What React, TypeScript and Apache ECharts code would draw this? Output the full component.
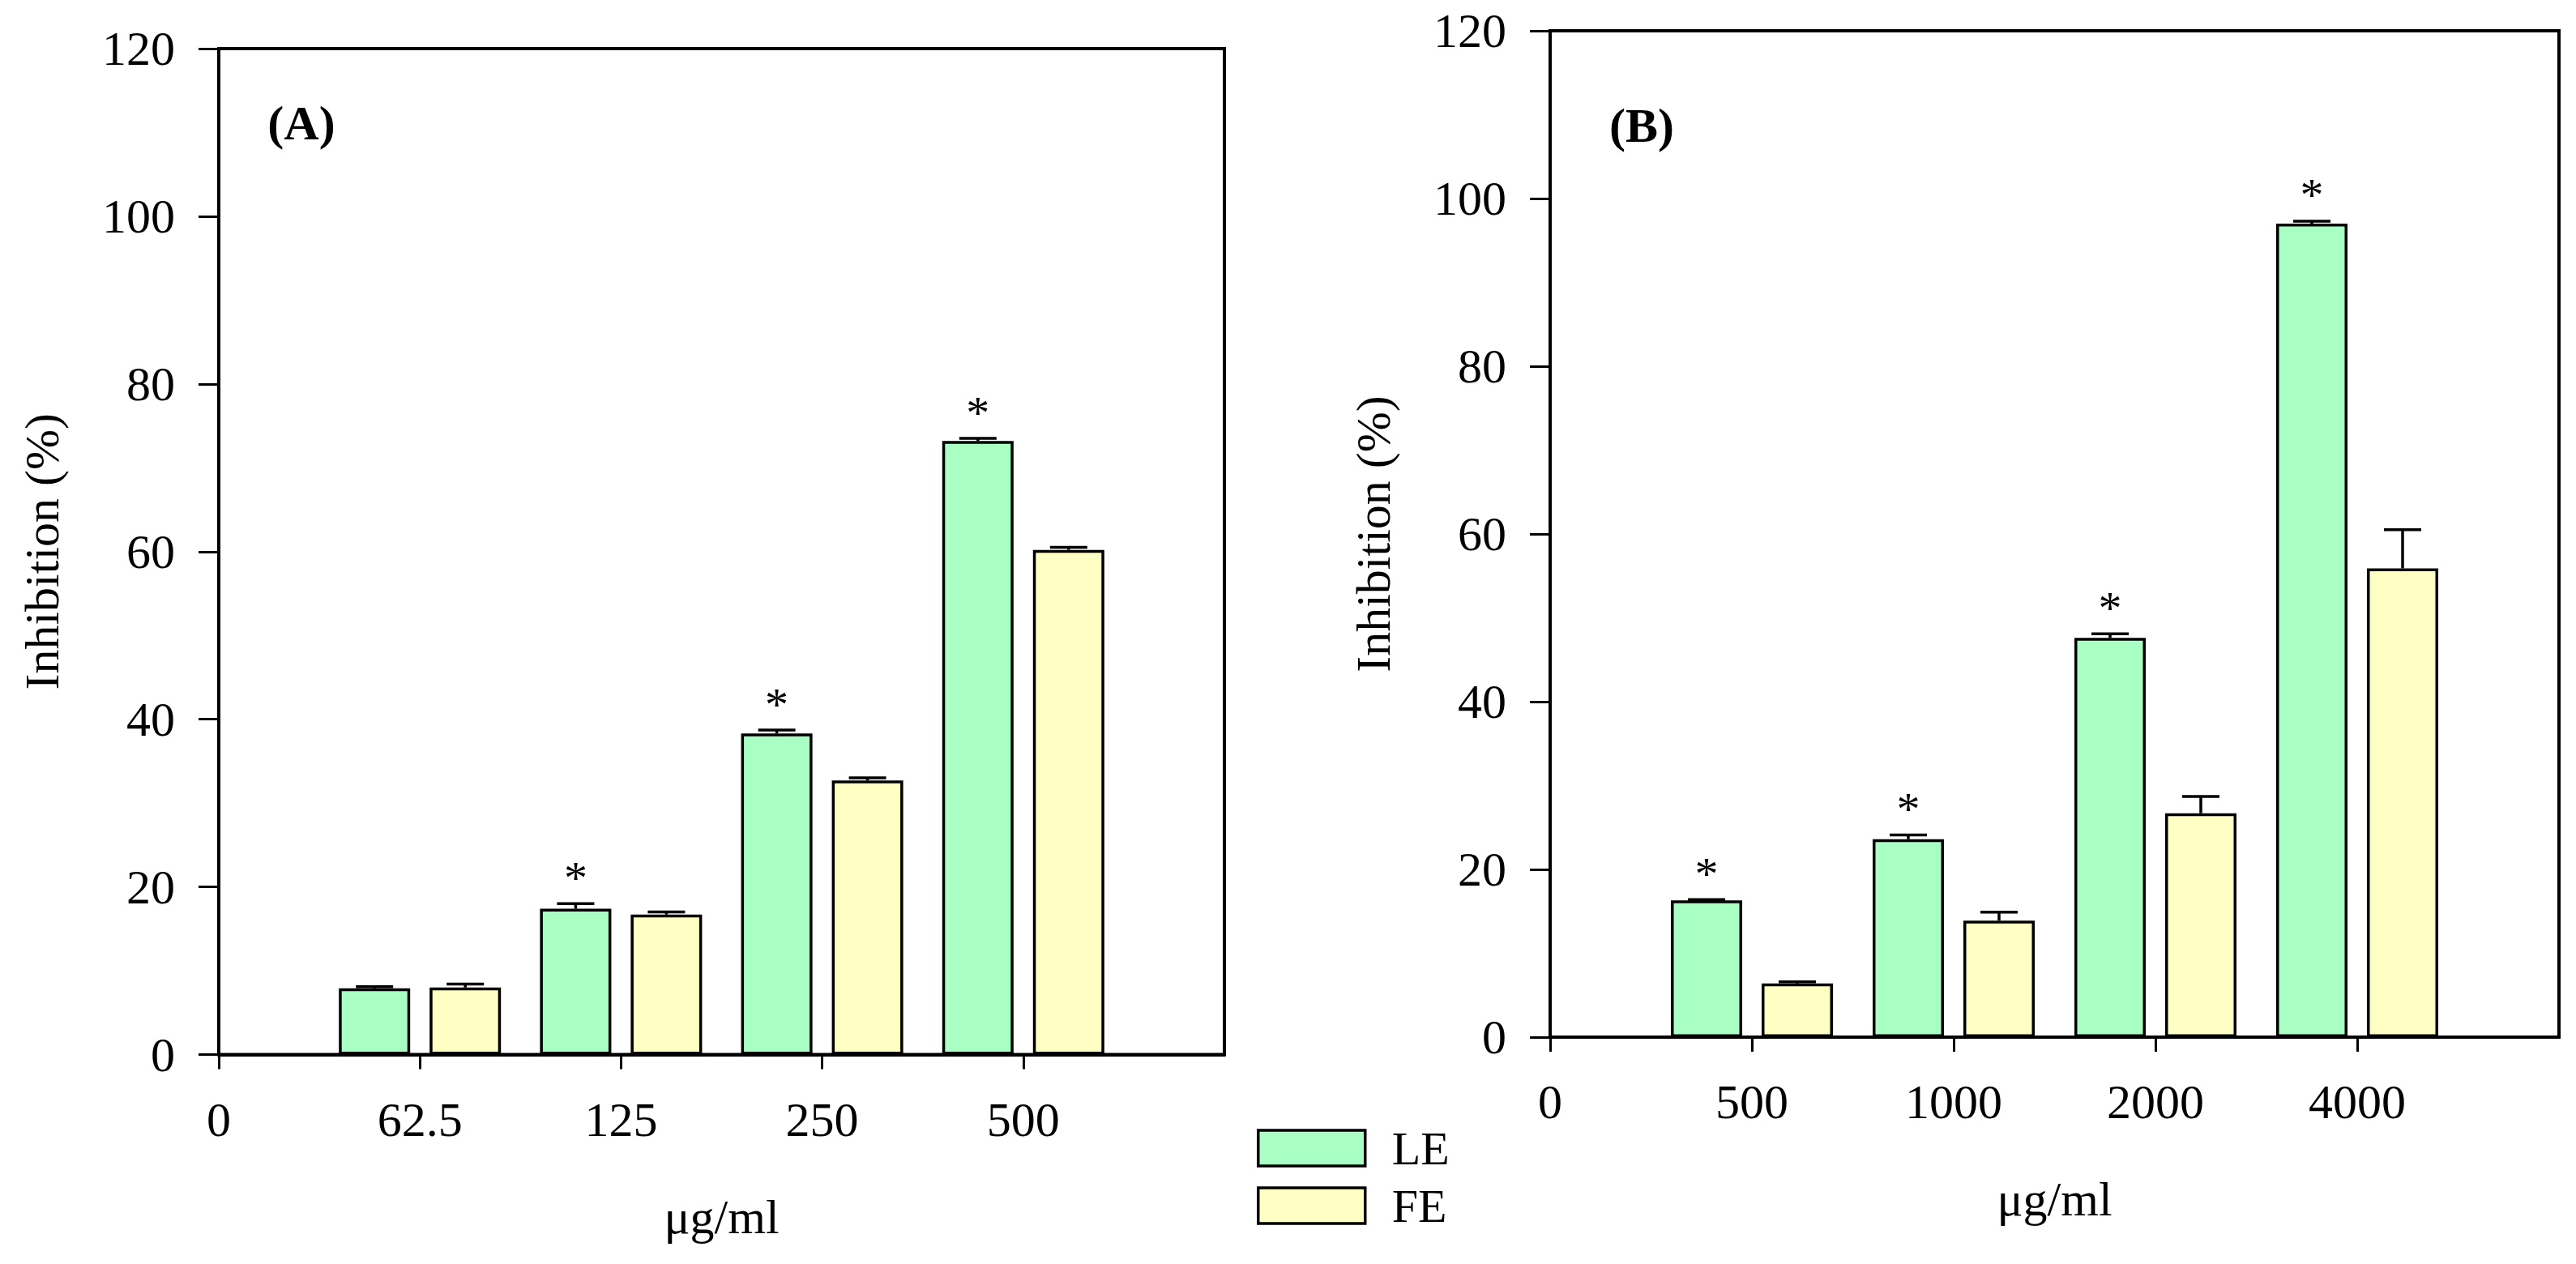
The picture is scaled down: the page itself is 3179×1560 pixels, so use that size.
import React, { useEffect, useRef } from "react";
import * as echarts from "echarts";

// concentrations (last empty slot keeps the axis running one step past the last group)
const concA = ["0", "62.5", "125", "250", "500", ""];
const concB = ["0", "500", "1000", "2000", "4000", ""];

// inhibition (%) and SE, panel A
const leA = [7.9, 17.4, 38.3, 73.2];
const leAErr = [0.2, 0.6, 0.4, 0.3];
const feA = [8.0, 16.7, 32.7, 60.2];
const feAErr = [0.4, 0.3, 0.3, 0.3];
const starA = [false, true, true, true];

// panel B
const leB = [16.3, 23.6, 47.6, 97.0];
const leBErr = [0.1, 0.5, 0.5, 0.3];
const feB = [6.4, 13.9, 26.7, 55.9];
const feBErr = [0.2, 1.0, 2.0, 4.6];
const starB = [true, true, true, true];

const noStar = [false, false, false, false];

const FONT = "'Liberation Serif', 'Times New Roman', serif";
const LE_COLOR = "#a9ffc3";
const FE_COLOR = "#ffffc4";
const BAR_W = 88;
const BAR_GAP = 24;
const OFFSET = (BAR_W + BAR_GAP) / 2;
const CAP = 23;
const STAR_GAP = 44;

const padBars = (v: number[]) => ["-", ...v, "-"];

function errorSeries(axis: number, values: number[], errs: number[], stars: boolean[], offset: number) {
  return {
    type: "custom",
    xAxisIndex: axis,
    yAxisIndex: axis,
    z: 5,
    silent: true,
    data: values.map((v, i) => [i + 1, v, errs[i], stars[i] ? 1 : 0]),
    encode: { x: 0, y: 1 },
    renderItem: (_params: any, api: any) => {
      const base = api.coord([api.value(0), api.value(1)]);
      const tip = api.coord([api.value(0), api.value(1) + api.value(2)]);
      const cx = base[0] + offset;
      const line = { stroke: "#000", lineWidth: 3.5 };
      const children: any[] = [
        { type: "line", shape: { x1: cx, y1: base[1], x2: cx, y2: tip[1] }, style: line },
        { type: "line", shape: { x1: cx - CAP, y1: tip[1], x2: cx + CAP, y2: tip[1] }, style: line },
      ];
      if (api.value(3)) {
        children.push({
          type: "text",
          x: cx,
          y: tip[1] - STAR_GAP + 12,
          style: { text: "*", fontSize: 58, fontFamily: FONT, fill: "#000", align: "center", verticalAlign: "middle" },
        });
      }
      return { type: "group", children };
    },
  };
}

function xAxis(grid: number, cats: string[]) {
  return {
    type: "category",
    gridIndex: grid,
    data: cats,
    boundaryGap: false,
    name: "μg/ml",
    nameLocation: "middle",
    nameGap: 170,
    nameTextStyle: { fontSize: 60, fontFamily: FONT, color: "#000" },
    axisLine: { show: true, lineStyle: { color: "#000", width: 4 } },
    axisTick: { show: true, length: 18, interval: (i: number) => i < 5, lineStyle: { color: "#000", width: 3 } },
    axisLabel: { interval: 0, margin: 50, fontSize: 60, fontFamily: FONT, color: "#000" },
    splitLine: { show: false },
  };
}

function yAxis(grid: number) {
  return {
    type: "value",
    gridIndex: grid,
    min: 0,
    max: 120,
    interval: 20,
    name: "Inhibition (%)",
    nameLocation: "middle",
    nameGap: 188,
    nameTextStyle: { fontSize: 60, fontFamily: FONT, color: "#000" },
    axisLine: { show: true, lineStyle: { color: "#000", width: 4 } },
    axisTick: { show: true, length: 25, lineStyle: { color: "#000", width: 3 } },
    axisLabel: { margin: 54, fontSize: 60, fontFamily: FONT, color: "#000" },
    splitLine: { show: false },
  };
}

function barSeries(axis: number, name: string, values: number[], color: string) {
  return {
    type: "bar",
    name,
    xAxisIndex: axis,
    yAxisIndex: axis,
    data: padBars(values),
    barWidth: BAR_W,
    barGap: `${(BAR_GAP / BAR_W) * 100}%`,
    itemStyle: { color, borderColor: "#000", borderWidth: 3.5 },
    z: 2,
  };
}

export default function App() {
  const chartRef = useRef<HTMLDivElement>(null);

  useEffect(() => {
    if (!chartRef.current) return;
    const chart = echarts.init(chartRef.current, undefined, { renderer: "svg" });

    chart.setOption({
      animation: false,
      backgroundColor: "#fff",
      textStyle: { fontFamily: FONT },
      grid: [
        { left: 270, top: 60, width: 1241, height: 1241.5, show: true, borderColor: "#000", borderWidth: 4 },
        { left: 1913, top: 38, width: 1245, height: 1242, show: true, borderColor: "#000", borderWidth: 4 },
      ],
      legend: {
        orient: "vertical",
        left: 1546,
        top: 1383,
        itemWidth: 132,
        itemHeight: 44,
        itemGap: 13,
        icon: "rect",
        data: ["LE", "FE"],
        itemStyle: { borderColor: "#000", borderWidth: 3.5 },
        textStyle: { fontSize: 58, fontFamily: FONT, color: "#000", padding: [0, 0, 0, 28] },
      },
      xAxis: [xAxis(0, concA), xAxis(1, concB)],
      yAxis: [yAxis(0), yAxis(1)],
      series: [
        barSeries(0, "LE", leA, LE_COLOR),
        barSeries(0, "FE", feA, FE_COLOR),
        barSeries(1, "LE", leB, LE_COLOR),
        barSeries(1, "FE", feB, FE_COLOR),
        errorSeries(0, leA, leAErr, starA, -OFFSET),
        errorSeries(0, feA, feAErr, noStar, OFFSET),
        errorSeries(1, leB, leBErr, starB, -OFFSET),
        errorSeries(1, feB, feBErr, noStar, OFFSET),
      ],
      graphic: [
        {
          type: "text",
          x: 372,
          y: 152,
          style: { text: "(A)", fontSize: 60, fontWeight: "bold", fontFamily: FONT, fill: "#000", align: "center", verticalAlign: "middle" },
        },
        {
          type: "text",
          x: 2026,
          y: 155,
          style: { text: "(B)", fontSize: 60, fontWeight: "bold", fontFamily: FONT, fill: "#000", align: "center", verticalAlign: "middle" },
        },
      ],
    });

    return () => {
      chart.dispose();
    };
  }, []);

  return (
    <div
      ref={chartRef}
      style={{ position: "fixed", left: 0, top: 0, width: 3179, height: 1560, background: "#fff" }}
    />
  );
}
